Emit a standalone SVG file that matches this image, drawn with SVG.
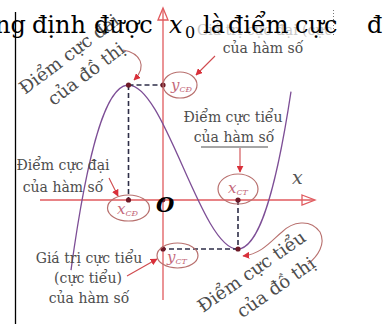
<svg xmlns="http://www.w3.org/2000/svg" width="388" height="324" viewBox="0 0 388 324">
<defs>
<style>
.lbl{font-family:"DejaVu Serif",serif;font-size:14px;fill:#4d4d4d}
.rot{font-family:"DejaVu Serif",serif;font-size:18px;fill:#4d4d4d}
.var{font-family:"DejaVu Serif",serif;font-style:italic;fill:#c4687a}
.ax{stroke:#e05a5e;stroke-width:1.3;fill:none}
.dash{stroke:#2e2e48;stroke-width:1.6;stroke-dasharray:5 3;fill:none}
.ell{stroke:#b8706e;stroke-width:1.2;fill:none}
.arr{stroke:#d04a4e;stroke-width:1.1;fill:none}
.crv{stroke:#b8706e;stroke-width:1.1;fill:none}
.dot{fill:#6e1a28}
.title{font-family:"DejaVu Serif",serif;font-size:24px;fill:#000}
</style>
<marker id="ah" viewBox="0 0 10 10" refX="9" refY="5" markerWidth="7" markerHeight="7" orient="auto" markerUnits="userSpaceOnUse">
<path d="M0,0 L10,5 L0,10 z" fill="#d9303a"/>
</marker>
<clipPath id="pic"><rect x="15" y="0" width="320" height="324"/></clipPath>
</defs>
<rect width="388" height="324" fill="#fff"/>
<g clip-path="url(#pic)">
<text class="lbl" x="197" y="35" style="fill:#c8c8c8">Giá trị cực đại (cực đại)</text>
</g>
<line x1="15.5" y1="12" x2="15.5" y2="324" stroke="#000" stroke-width="1.3"/>
<line x1="333.5" y1="10" x2="333.5" y2="36" stroke="#777" stroke-width="1" stroke-dasharray="1 2"/>
<g id="axes">
<line class="ax" x1="163" y1="10" x2="163" y2="300"/>
<path class="ax" d="M158,20 L163,8 L168,20 Z"/>
<line class="ax" x1="40" y1="200" x2="314" y2="200"/>
<path class="ax" d="M302,195 L315,200 L302,205 Z"/>
</g>
<g id="curve">
<path d="M71,270.1 C144.33,-263.3 217.67,576.1 291,91.7" stroke="#7d4e96" stroke-width="1.3" fill="none"/>
</g>
<g id="connectors">
<path class="dash" d="M128.5,85 H163 M128.5,85 V200 M238,200 V249 M238,249 H163"/>
<path class="arr" d="M215,56 L196,75" marker-end="url(#ah)"/>
<path class="arr" d="M240,148 V172" marker-end="url(#ah)"/>
<path class="arr" d="M109,178 L118,196" marker-end="url(#ah)"/>
<path class="arr" d="M127,276 L157,259" marker-end="url(#ah)"/>
<path class="crv" d="M123,50 C140,53 148,66 134,80" marker-end="url(#ah)"/>
<path class="crv" d="M308,264 C318,256 326,244 320,232 C310,218 292,222 282,232 C272,240 262,254 243,256" marker-end="url(#ah)"/>
</g>
<g id="dots">
<circle class="dot" cx="128.5" cy="85" r="2.6"/>
<circle class="dot" cx="163" cy="85" r="2.6"/>
<circle class="dot" cx="128.5" cy="200" r="2.6"/>
<circle class="dot" cx="163" cy="200" r="2.4"/>
<circle class="dot" cx="238" cy="200" r="2.6"/>
<circle class="dot" cx="238" cy="249" r="2.6"/>
<circle class="dot" cx="163" cy="249" r="2.6"/>
</g>
<g id="yCD">
<ellipse class="ell" cx="180" cy="85" rx="17" ry="13"/>
<text class="var" x="171" y="90" font-size="15">y<tspan font-size="8" dy="2">CĐ</tspan></text>
</g>
<g id="xCD">
<ellipse class="ell" cx="128.5" cy="208" rx="21" ry="13"/>
<text class="var" x="117" y="214" font-size="15">x<tspan font-size="8" dy="2">CĐ</tspan></text>
</g>
<g id="xCT">
<ellipse class="ell" cx="238" cy="189" rx="20" ry="15"/>
<text class="var" x="228" y="193" font-size="15">x<tspan font-size="8" dy="2">CT</tspan></text>
</g>
<g id="yCT">
<ellipse class="ell" cx="177.5" cy="255.5" rx="20.5" ry="12.5"/>
<text class="var" x="167" y="262" font-size="15">y<tspan font-size="8" dy="2">CT</tspan></text>
</g>
<g id="labels">
<text x="156" y="212" font-family="DejaVu Serif,serif" font-size="21" font-style="italic" font-weight="bold" fill="#000">O</text>
<text x="292" y="184" font-family="DejaVu Serif,serif" font-size="19" font-style="italic" fill="#555">x</text>
<text class="lbl" x="263" y="53" text-anchor="middle">của hàm số</text>
<text class="lbl" x="233" y="122" text-anchor="middle">Điểm cực tiểu</text>
<text class="lbl" x="234" y="142" text-anchor="middle">của hàm số</text>
<line x1="201" y1="147" x2="268" y2="147" stroke="#4d4d4d" stroke-width="1"/>
<text class="lbl" x="63" y="170" text-anchor="middle">Điểm cực đại</text>
<text class="lbl" x="63" y="192" text-anchor="middle">của hàm số</text>
<text class="lbl" x="89" y="263" text-anchor="middle">Giá trị cực tiểu</text>
<text class="lbl" x="88" y="283" text-anchor="middle">(cực tiểu)</text>
<text class="lbl" x="89" y="303" text-anchor="middle">của hàm số</text>
<g transform="translate(25,95) rotate(-37)">
<text class="rot" x="0" y="0">Điểm cực đại</text>
<text class="rot" x="16" y="26">của đồ thị</text>
</g>
<g transform="translate(203,313) rotate(-35)">
<text class="rot" x="0" y="0">Điểm cực tiểu</text>
<text class="rot" x="29" y="27">của đồ thị</text>
</g>
</g>
<g id="title">
<text class="title" y="33"><tspan x="-5">ng</tspan><tspan x="32">định</tspan><tspan x="94">được</tspan><tspan x="169" font-style="italic">x</tspan><tspan x="185" y="38" font-size="16">0</tspan><tspan x="203" y="33">là</tspan><tspan x="228">điểm</tspan><tspan x="295">cực</tspan><tspan x="367">đ</tspan></text>
</g>
</svg>
